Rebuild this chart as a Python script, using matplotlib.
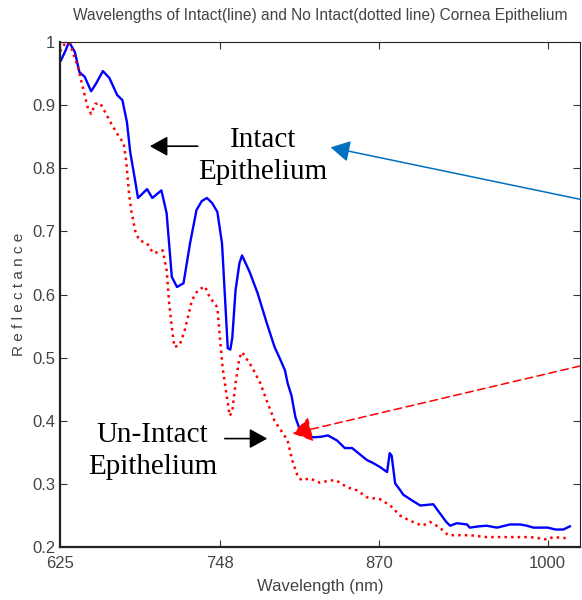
import matplotlib.pyplot as plt

# reflectance spectra of the cornea epithelium
wl_intact = [625.8, 629, 632, 636.5, 640, 644, 649, 653, 658, 663, 669, 673, 676.5,
             679, 683, 685, 692, 696, 703, 707, 711, 715, 720, 725, 730, 734, 738,
             742, 746, 749.6, 752, 754, 756, 757.5, 760, 763, 765, 771, 777, 784,
             790, 794, 798, 800, 803, 806, 809.6, 815, 820, 826, 831, 838, 844,
             849.6, 855, 861, 866, 871, 876.5, 878.5, 880, 882.7, 886, 889, 896.5,
             902, 907, 912, 917, 922, 925, 930, 938, 940, 947, 953, 961, 967, 971,
             979, 984, 989, 1000, 1006, 1012, 1017]
refl_intact = [0.971, 0.985, 1.0, 0.984, 0.952, 0.945, 0.922, 0.935, 0.954, 0.943,
               0.916, 0.908, 0.873, 0.826, 0.778, 0.753, 0.767, 0.753, 0.765, 0.729,
               0.628, 0.612, 0.618, 0.681, 0.734, 0.748, 0.753, 0.745, 0.731, 0.681,
               0.591, 0.515, 0.513, 0.532, 0.607, 0.650, 0.662, 0.635, 0.602, 0.555,
               0.517, 0.499, 0.480, 0.460, 0.440, 0.406, 0.385, 0.376, 0.374, 0.375,
               0.377, 0.369, 0.357, 0.357, 0.348, 0.338, 0.333, 0.327, 0.319, 0.349,
               0.345, 0.301, 0.292, 0.283, 0.273, 0.266, 0.267, 0.268, 0.254, 0.240,
               0.234, 0.238, 0.236, 0.231, 0.233, 0.234, 0.231, 0.234, 0.236, 0.236,
               0.234, 0.231, 0.231, 0.228, 0.228, 0.233]

wl_damaged = [625, 629, 632.7, 635, 639, 642.7, 646.5, 649, 652, 656, 661, 666, 671,
              674, 676, 678, 680, 683, 686, 692, 696.5, 700, 704, 707, 709, 711, 713,
              717, 721, 726.5, 731, 736.5, 740, 746, 748, 750, 753.5, 755.5, 757.5,
              760, 763, 765, 772.7, 779, 784, 790, 796.5, 800, 803.5, 808, 811, 817,
              825, 832.7, 838, 845.8, 853.5, 861, 871, 879, 886.5, 894, 903.5, 909.6,
              917, 923.5, 940, 953, 969, 979, 986.5, 994, 1000, 1004, 1016]
refl_damaged = [0.985, 0.998, 0.998, 0.983, 0.959, 0.927, 0.895, 0.886, 0.902, 0.903,
                0.884, 0.865, 0.848, 0.840, 0.810, 0.762, 0.731, 0.700, 0.686, 0.681,
                0.666, 0.667, 0.670, 0.639, 0.586, 0.548, 0.517, 0.520, 0.544, 0.591,
                0.607, 0.613, 0.596, 0.580, 0.532, 0.485, 0.436, 0.408, 0.415, 0.460,
                0.500, 0.509, 0.485, 0.460, 0.432, 0.400, 0.380, 0.369, 0.338, 0.311,
                0.306, 0.309, 0.302, 0.306, 0.305, 0.295, 0.290, 0.279, 0.276, 0.266,
                0.250, 0.242, 0.234, 0.240, 0.231, 0.219, 0.219, 0.216, 0.216, 0.216,
                0.216, 0.214, 0.212, 0.216, 0.214]

xticks = [625, 748, 870, 1000]
yticks = [0.2, 0.3, 0.4, 0.5, 0.6, 0.7, 0.8, 0.9, 1.0]
ytick_labels = ["0.2", "0.3", "0.4", "0.5", "0.6", "0.7", "0.8", "0.9", "1"]

plt.rcParams['font.family'] = ['Liberation Sans', 'DejaVu Sans']

fig = plt.figure(figsize=(5.82, 6.0), dpi=100)
ax = fig.add_axes([0.103, 0.088, 0.894, 0.842])

ax.plot(wl_intact, refl_intact, color="#0000ff", linewidth=1.7)
ax.plot(wl_damaged, refl_damaged, color="#ff0000", linewidth=1.8, linestyle=":")

ax.set_xlim(625, 1025)
ax.set_ylim(0.2, 1.0)
ax.set_xticks(xticks)
ax.set_xticklabels([str(t) for t in xticks])
ax.set_yticks(yticks)
ax.set_yticklabels(ytick_labels)
ax.tick_params(direction="in", top=True, right=True, length=5, labelsize=12,
               colors="#333333", labelcolor="#444444")
ax.tick_params(axis="x", pad=6)
for s in ax.spines.values():
    s.set_color("#222222")
ax.spines["left"].set_linewidth(1.6)
ax.spines["bottom"].set_linewidth(1.6)

ax.set_xlabel("Wavelength (nm)", fontsize=12, color="#444444", labelpad=6)
ax.set_ylabel("R e f l e c t a n c e", fontsize=11, color="#444444", labelpad=4)
ax.set_title("Wavelengths of Intact(line) and No Intact(dotted line) Cornea Epithelium",
             fontsize=11.2, color="#444444", pad=16)

serif = ['Liberation Serif', 'DejaVu Serif']
ax.text(781, 0.819, "Intact\nEpithelium", fontsize=21, family=serif,
        ha="center", va="center", linespacing=1.3)
ax.text(696, 0.353, "Un-Intact\nEpithelium", fontsize=21, family=serif,
        ha="center", va="center", linespacing=1.3)

head = "-|>,head_length=0.45,head_width=0.25"
ax.annotate("", xy=(692, 0.835), xytext=(733, 0.835),
            arrowprops=dict(arrowstyle=head, color="black", lw=1.2, mutation_scale=24))
ax.annotate("", xy=(786.5, 0.372), xytext=(749.6, 0.372),
            arrowprops=dict(arrowstyle=head, color="black", lw=1.2, mutation_scale=24))
ax.annotate("", xy=(831, 0.834), xytext=(1027, 0.75), annotation_clip=False,
            arrowprops=dict(arrowstyle=head, color="#0070c0", lw=1.1, mutation_scale=26))
ax.annotate("", xy=(802, 0.379), xytext=(1027, 0.488), annotation_clip=False,
            arrowprops=dict(arrowstyle="-|>,head_length=0.45,head_width=0.3", color="#ff0000",
                            lw=1.1, linestyle=(0, (5, 3)), mutation_scale=26))

fig.savefig("out.png", dpi=100)
